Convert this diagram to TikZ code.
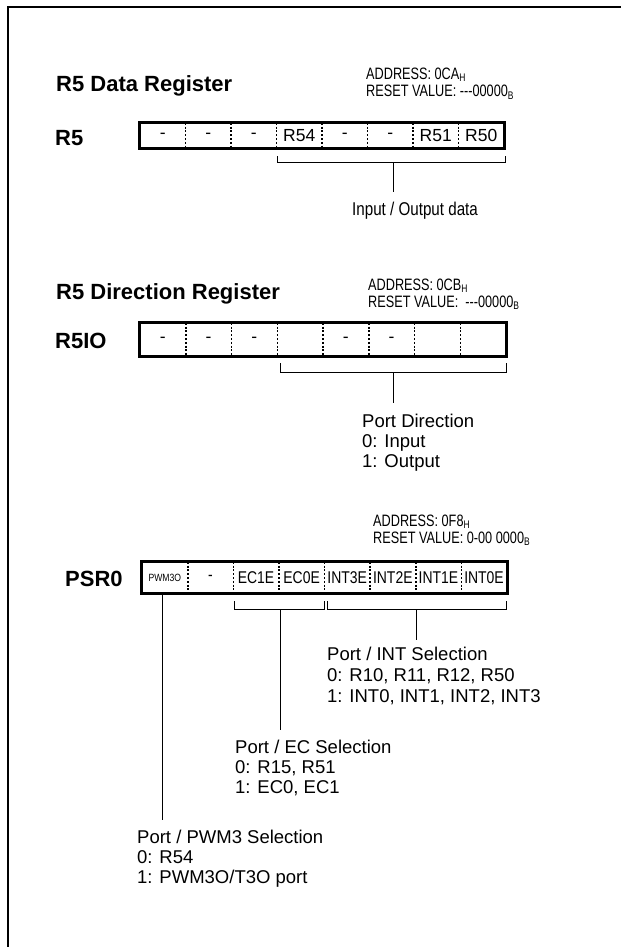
\documentclass[tikz,border=0pt]{standalone}
\usepackage{fontspec}
\setmainfont{Liberation Sans}
\newfontfamily\narrowfont[FakeStretch=0.82]{Liberation Sans}
\newfontfamily\addrfont[FakeStretch=0.77]{Liberation Sans}
\newcommand\regsub[1]{\raisebox{-2pt}{\fontsize{11}{11}\selectfont #1}}
\begin{document}
\begin{tikzpicture}[x=1pt,y=-1pt,
  frame/.style={line width=2.5pt},
  regbox/.style={line width=3pt},
  divider/.style={line width=1.5pt, dash pattern=on 2pt off 1.8pt},
  conn/.style={line width=1pt},
  title/.style={font=\fontsize{22}{22}\selectfont\bfseries, anchor=base west, inner sep=0pt},
  addr/.style={font=\addrfont\fontsize{16.5}{16.5}\selectfont, anchor=base west, inner sep=0pt},
  desc/.style={font=\fontsize{18.5}{18.5}\selectfont, anchor=base west, inner sep=0pt},
  narrowdesc/.style={font=\narrowfont\fontsize{18.5}{18.5}\selectfont, anchor=base west, inner sep=0pt},
  cellA/.style={minimum width=45.5pt, minimum height=25pt, inner sep=0pt, font=\fontsize{17.5}{17.5}\selectfont},
  cellB/.style={minimum width=45.75pt, minimum height=33pt, inner sep=0pt, font=\fontsize{17.5}{17.5}\selectfont},
  cellC/.style={minimum width=45.6pt, minimum height=31pt, inner sep=0pt, font=\narrowfont\fontsize{17}{17}\selectfont},
]
\useasboundingbox (0,0) rectangle (621,947);
\draw[frame] (8,947) -- (8,7) -- (621,7);

% ---------- R5 Data Register ----------
\node[title] (t1) at (56,92) {R5 Data Register};
\node[addr] (a1) at (366,80) {ADDRESS: 0CA\regsub{H}};
\node[addr] (rv1) at (366,97) {RESET VALUE: ---00000\regsub{B}};
\node[title] (l1) at (55,145) {R5};
\foreach \t [count=\i] in {-,-,-,R54,-,-,R51,R50}
  \node[cellA] (r5c\i) at ({140+(\i-0.5)*45.5},135.5) {\t};
\draw[regbox] (r5c1.north west) rectangle (r5c8.south east);
\foreach \i in {1,...,7}
  \draw[divider] (r5c\i.north east) -- (r5c\i.south east);
\coordinate (b1l) at (277,156);
\coordinate (b1r) at (505,156);
\coordinate (b1m) at (393,162);
\coordinate (b1e) at (393,192);
\draw[conn] (b1l) -- ++(0,6) -| (b1r);
\draw[conn] (b1m) -- (b1e);
\node[narrowdesc] (d1) at (352,215) {Input / Output data};

% ---------- R5 Direction Register ----------
\node[title] (t2) at (56,299) {R5 Direction Register};
\node[addr] (a2) at (368,290) {ADDRESS: 0CB\regsub{H}};
\node[addr] (rv2) at (368,307) {RESET VALUE:\ \ ---00000\regsub{B}};
\node[title] (l2) at (55,348) {R5IO};
\foreach \t [count=\i] in {-,-,-,{},-,-,{},{}}
  \node[cellB] (rioc\i) at ({140+(\i-0.5)*45.75},339.5) {\t};
\draw[regbox] (rioc1.north west) rectangle (rioc8.south east);
\foreach \i in {1,...,7}
  \draw[divider] (rioc\i.north east) -- (rioc\i.south east);
\coordinate (b2l) at (280,363);
\coordinate (b2r) at (506,363);
\coordinate (b2m) at (393,372);
\coordinate (b2e) at (393,403);
\draw[conn] (b2l) -- ++(0,9) -| (b2r);
\draw[conn] (b2m) -- (b2e);
\node[desc] (d2a) at (362,427) {Port Direction};
\node[desc] (d2b) at (362,447) {0: Input};
\node[desc] (d2c) at (362,467) {1: Output};

% ---------- PSR0 ----------
\node[addr] (a3) at (373,526) {ADDRESS: 0F8\regsub{H}};
\node[addr] (rv3) at (373,543) {RESET VALUE: 0-00 0000\regsub{B}};
\node[title] (l3) at (65,586) {PSR0};
\foreach \t [count=\i] in {{\fontsize{10.5}{10.5}\selectfont PWM3O},-,EC1E,EC0E,INT3E,INT2E,INT1E,INT0E}
  \node[cellC] (p0c\i) at ({142+(\i-0.5)*45.6},577.5) {\t};
\draw[regbox] (p0c1.north west) rectangle (p0c8.south east);
\foreach \i in {1,...,7}
  \draw[divider] (p0c\i.north east) -- (p0c\i.south east);
% PWM3 line
\coordinate (pw) at (162,594);
\coordinate (pwe) at (162,820);
\draw[conn] (pw) -- (pwe);
% EC bracket
\coordinate (ecl) at (234,601);
\coordinate (ecr) at (324,601);
\coordinate (ecm) at (280,609);
\coordinate (ece) at (280,730);
\draw[conn] (ecl) -- ++(0,8) -| (ecr);
\draw[conn] (ecm) -- (ece);
% INT bracket
\coordinate (inl) at (327,601);
\coordinate (inr) at (506,601);
\coordinate (inm) at (416,609);
\coordinate (ine) at (416,640);
\draw[conn] (inl) -- ++(0,8) -| (inr);
\draw[conn] (inm) -- (ine);
\node[desc] (d3a) at (327,660) {Port / INT Selection};
\node[desc] (d3b) at (327,681) {0: R10, R11, R12, R50};
\node[desc] (d3c) at (327,702) {1: INT0, INT1, INT2, INT3};
\node[desc] (d4a) at (235,753) {Port / EC Selection};
\node[desc] (d4b) at (235,773) {0: R15, R51};
\node[desc] (d4c) at (235,793) {1: EC0, EC1};
\node[desc] (d5a) at (137,843) {Port / PWM3 Selection};
\node[desc] (d5b) at (137,863) {0: R54};
\node[desc] (d5c) at (137,883) {1: PWM3O/T3O port};
\end{tikzpicture}
\end{document}
